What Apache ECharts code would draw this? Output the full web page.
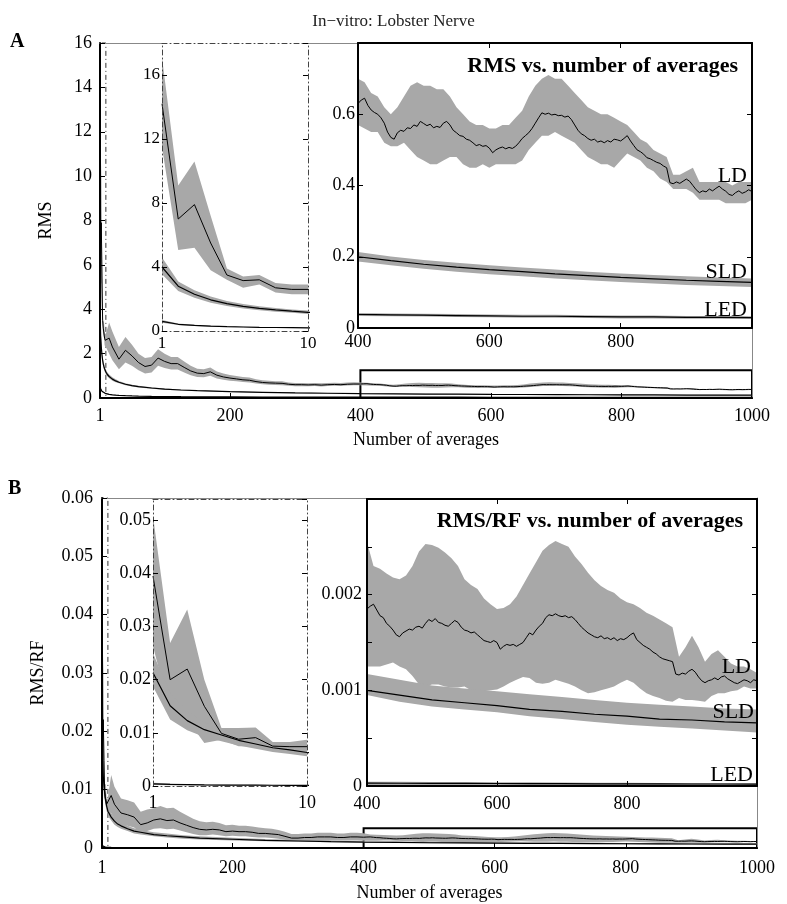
<!DOCTYPE html>
<html><head><meta charset="utf-8">
<script src="https://cdn.jsdelivr.net/npm/echarts@6/dist/echarts.min.js"></script>
<style>html,body{margin:0;padding:0;background:#fff}#c{width:787px;height:904px}</style>
</head><body><div id="c"></div><script>
// ---------- texts ----------
const titleText = 'In\u2212vitro: Lobster Nerve';
const panelLetters = ['A', 'B'];
const yNames = ['RMS', 'RMS/RF'];
const xName = 'Number of averages';
const insetTitles = ['RMS vs. number of averages', 'RMS/RF vs. number of averages'];
const curveNames = ['LD', 'SLD', 'LED'];

// ---------- tick labels ----------
const mainXLabels = [1, 200, 400, 600, 800, 1000];
const mainXTicksA = [200, 400, 600, 800];
const mainXTicksB = [100, 200, 400, 600, 800];
const insetLXLabels = [1, 10];
const insetRXLabels = [400, 600, 800];
const insetRXTicks = [600, 800];

// zoom boxes drawn in the main panels: [x1, x2, y1, y2]
const zoomLA = [1, 10, 0, 16], zoomRA = [400, 1000, 0, 1.25];
const zoomLB = [1, 10, 0, 0.06], zoomRB = [400, 1000, 0, 0.0034];

// ---------- x grids ----------
function range(a, b, s) { const r = []; for (let v = a; v <= b + 1e-9; v += s) r.push(Math.round(v)); return r; }
const ldX = [1,2,3,4,5,6,7,8,9,10,15,20].concat(range(30, 390, 10), range(400, 1000, 5));
const bandX = [1,2,3,4,5,6,7,8,9,10,15,20].concat(range(30, 390, 10), range(400, 1000, 10));
const smoothX = [1,2,3,4,5,6,7,8,9,10,12,15,20,25,30,40,50,60,80,100,125,150,200,250,300,350,400,450,500,550,600,650,700,750,800,850,900,950,1000];

// ---------- panel A: RMS ----------
const ldMeanA = [14.2,7.0,7.9,5.5,3.5,3.15,3.2,2.7,2.6,2.6,2.7,2.3,
 1.75,2.15,1.9,1.6,1.42,1.48,1.8,1.65,1.55,1.55,
 1.38,1.22,1.12,1.1,1.18,1.03,0.95,0.9,0.86,0.82,
 0.8,0.74,0.7,0.68,0.67,0.66,0.62,0.6,0.6,0.59,
 0.6,0.58,0.6,0.61,0.6,0.62,0.63,
 .630,.640,.645,.625,.612,.605,.600,.590,.575,.550,
 .535,.530,.548,.555,.552,.562,.560,.570,.566,.580,
 .574,.568,.572,.562,.566,.563,.575,.580,.570,.555,
 .548,.540,.538,.530,.527,.520,.512,.515,.510,.512,
 .505,.492,.500,.505,.508,.503,.507,.504,.510,.520,
 .532,.540,.548,.560,.575,.590,.604,.600,.603,.598,
 .600,.596,.597,.592,.595,.585,.570,.555,.545,.540,
 .532,.527,.530,.522,.525,.520,.526,.522,.530,.528,
 .525,.532,.540,.525,.512,.500,.495,.488,.478,.475,
 .470,.465,.462,.455,.450,.408,.405,.410,.406,.412,
 .418,.412,.400,.388,.380,.385,.382,.390,.385,.392,
 .398,.390,.384,.375,.372,.380,.385,.378,.382,.388,
 .383];
const ldLoA = [11.5,5.06,5.2,3.8,3.2,2.7,2.9,2.4,2.3,2.3,2.0,1.7,
 1.3,1.6,1.45,1.25,1.1,1.15,1.45,1.35,1.28,1.28,
 1.15,1.02,0.95,0.93,1.0,0.88,0.82,0.78,0.75,0.72,
 0.7,0.65,0.62,0.6,0.59,0.58,0.55,0.53,0.53,0.53,
 0.54,0.52,0.54,0.55,0.54,0.56,0.57,
 .57,.56,.55,.55,.52,.51,.51,.52,.50,.48,
 .47,.46,.46,.47,.48,.48,.46,.45,.45,.46,
 .45,.46,.46,.46,.46,.47,.50,.52,.54,.54,
 .55,.54,.53,.52,.50,.48,.47,.46,.46,.45,
 .47,.49,.48,.47,.45,.44,.42,.41,.39,.39,
 .39,.38,.36,.36,.36,.36,.35,.35,.35,.35,
 .36];
const ldHiA = [17.1,9.1,10.6,7.2,3.9,3.4,3.5,3.0,2.9,2.9,3.4,3.0,
 2.3,2.75,2.4,2.0,1.8,1.85,2.2,2.0,1.85,1.85,
 1.65,1.45,1.32,1.3,1.38,1.2,1.1,1.04,0.99,0.95,
 0.92,0.85,0.8,0.78,0.76,0.75,0.7,0.68,0.68,0.67,
 0.68,0.66,0.68,0.69,0.68,0.7,0.71,
 .70,.69,.66,.65,.62,.60,.62,.65,.68,.69,
 .68,.68,.67,.67,.65,.62,.60,.58,.57,.57,
 .56,.56,.57,.57,.59,.61,.65,.68,.70,.71,
 .70,.70,.68,.66,.64,.62,.61,.60,.60,.59,
 .58,.57,.55,.53,.52,.50,.49,.48,.43,.43,
 .44,.45,.41,.41,.41,.41,.41,.40,.41,.41,
 .41];
const sldMeanA = [4.0,2.8,2.3,1.95,1.71,1.54,1.42,1.32,1.24,1.17,1.07,0.97,0.85,0.77,0.71,0.62,0.56,0.51,0.45,0.40,0.36,0.33,0.285,0.255,0.232,0.215,0.200,0.189,0.179,0.171,0.164,0.158,0.152,0.147,0.142,0.138,0.134,0.131,0.128];
const sldLoA = [3.55,2.5,2.08,1.77,1.56,1.41,1.3,1.21,1.14,1.07,0.98,0.89,0.78,0.71,0.66,0.58,0.52,0.475,0.42,0.375,0.337,0.31,0.268,0.24,0.218,0.202,0.187,0.176,0.166,0.158,0.151,0.145,0.139,0.134,0.129,0.125,0.121,0.118,0.115];
const sldHiA = [4.6,3.1,2.55,2.15,1.88,1.68,1.55,1.44,1.35,1.28,1.17,1.06,0.93,0.84,0.77,0.67,0.6,0.55,0.485,0.43,0.385,0.352,0.303,0.27,0.246,0.228,0.213,0.201,0.191,0.183,0.176,0.17,0.164,0.158,0.153,0.149,0.145,0.142,0.139];
const ledMeanA = [0.6,0.42,0.35,0.3,0.27,0.25,0.23,0.22,0.21,0.2,0.185,0.165,0.145,0.13,0.12,0.105,0.095,0.087,0.076,0.068,0.062,0.057,0.05,0.046,0.043,0.04,0.038,0.037,0.036,0.035,0.034,0.033,0.033,0.032,0.031,0.031,0.03,0.03,0.029];
const ledLoA = [0.52,0.37,0.31,0.27,0.245,0.228,0.21,0.2,0.19,0.182,0.168,0.15,0.132,0.118,0.109,0.096,0.087,0.08,0.07,0.062,0.057,0.052,0.046,0.042,0.039,0.036,0.034,0.033,0.032,0.031,0.030,0.029,0.029,0.028,0.027,0.027,0.026,0.026,0.025];
const ledHiA = [0.68,0.47,0.39,0.33,0.295,0.272,0.25,0.24,0.23,0.218,0.202,0.18,0.158,0.142,0.131,0.114,0.103,0.094,0.082,0.074,0.067,0.062,0.054,0.05,0.047,0.044,0.042,0.041,0.04,0.039,0.038,0.037,0.037,0.036,0.035,0.035,0.034,0.034,0.033];

// ---------- panel B: RMS/RF ----------
const ldMeanB = [0.0395,0.0200,0.0220,0.0150,0.0099,0.0088,0.0091,0.0075,0.0074,0.0074,0.0090,0.0075,
 .0060,.0057,.0053,.0040,.0043,.0048,.0050,.0047,.0048,.0043,
 .0039,.0035,.0032,.0031,.0032,.0031,.0028,.0029,.0028,.0028,
 .0027,.0025,.0025,.0024,.0023,.0020,.0017,.0017,.0018,.0018,
 .0019,.0019,.0019,.0018,.0018,.0019,.0019,
 .00185,.00188,.00190,.00184,.00178,.00176,.00170,.00167,.00163,.00158,
 .00156,.00160,.00162,.00164,.00163,.00166,.00167,.00165,.00170,.00174,
 .00172,.00175,.00171,.00170,.00168,.00167,.00170,.00173,.00171,.00166,
 .00163,.00162,.00160,.00161,.00158,.00155,.00152,.00151,.00150,.00152,
 .00150,.00143,.00146,.00148,.00147,.00148,.00146,.00148,.00150,.00155,
 .00160,.00158,.00163,.00167,.00170,.00176,.00179,.00178,.00180,.00178,
 .00177,.00178,.00176,.00177,.00174,.00170,.00166,.00163,.00160,.00158,
 .00156,.00155,.00157,.00154,.00155,.00153,.00155,.00152,.00154,.00153,
 .00155,.00158,.00160,.00153,.00150,.00147,.00145,.00143,.00140,.00138,
 .00135,.00133,.00132,.00131,.00130,.00117,.00116,.00118,.00117,.00120,
 .00122,.00119,.00114,.00110,.00108,.00110,.00111,.00113,.00111,.00114,
 .00115,.00112,.00110,.00108,.00107,.00109,.00111,.00110,.00108,.00111,
 .00110];
const ldLoB = [0.0263,0.0138,0.0125,0.0081,0.0087,0.0075,0.0075,0.0068,0.0066,0.0066,0.0060,0.0050,
 .0038,.0038,.0035,.0026,.0029,.0033,.0034,.0032,.0033,.0030,
 .0027,.0024,.0022,.0022,.0023,.0022,.0020,.0021,.0020,.0020,
 .0019,.0018,.0018,.0017,.0016,.0014,.0012,.0012,.0013,.0013,
 .0013,.0013,.0013,.0013,.0013,.0013,.0013,
 .00125,.00125,.00125,.00127,.00129,.00125,.00122,.00115,.00106,.00104,
 .00106,.00106,.00104,.00103,.00103,.00104,.00100,.00097,.00099,.00100,
 .00101,.00104,.00108,.00111,.00114,.00113,.00108,.00107,.00108,.00111,
 .00109,.00107,.00104,.00100,.00097,.00098,.00100,.00102,.00104,.00108,
 .00111,.00108,.00102,.00097,.00094,.00092,.00089,.00088,.00092,.00090,
 .00090,.00089,.00088,.00094,.00097,.00097,.00099,.00100,.00104,.00102,
 .00102];
const ldHiB = [0.0508,0.0269,0.0332,0.0200,0.0109,0.0109,0.0110,0.0083,0.0083,0.0087,0.0125,0.0105,
 .0085,.0082,.0078,.0062,.0066,.0068,.0072,.0068,.0069,.0062,
 .0056,.0050,.0046,.0044,.0045,.0043,.0039,.0040,.0038,.0038,
 .0037,.0035,.0034,.0033,.0031,.0028,.0024,.0024,.0025,.0025,
 .0026,.0026,.0026,.0025,.0025,.0026,.0026,
 .00255,.00230,.00227,.00222,.00218,.00216,.00220,.00230,.00245,.00253,
 .00252,.00249,.00244,.00238,.00230,.00216,.00210,.00206,.00196,.00190,
 .00185,.00186,.00190,.00198,.00210,.00222,.00234,.00246,.00252,.00256,
 .00253,.00250,.00240,.00232,.00223,.00215,.00209,.00205,.00202,.00196,
 .00192,.00190,.00186,.00181,.00178,.00174,.00170,.00166,.00135,.00145,
 .00157,.00145,.00130,.00138,.00142,.00135,.00128,.00125,.00125,.00122,
 .00118];
const sldMeanB = [0.0213,0.0151,0.0123,0.0106,0.0096,0.0086,0.0079,0.0072,0.0068,0.0063,0.0059,0.0053,0.0046,0.0041,0.0038,0.0033,0.0029,0.0027,0.0023,0.0021,0.0019,0.0017,0.0015,0.0013,0.0012,0.00108,0.00100,0.00095,0.00090,0.00087,0.00084,0.00080,0.00078,0.00075,0.00073,0.00070,0.00069,0.00067,0.00066];
const sldLoB = [0.0187,0.0125,0.0105,0.0092,0.0084,0.0076,0.0070,0.0064,0.0060,0.0056,0.0052,0.0047,0.0040,0.0036,0.0033,0.0029,0.0025,0.0023,0.0020,0.0018,0.0016,0.00145,0.00127,0.00114,0.00106,0.00099,0.00095,0.00088,0.00083,0.0008,0.00077,0.00073,0.0007,0.00067,0.00064,0.00062,0.0006,0.00058,0.00056];
const sldHiB = [0.025,0.0175,0.014,0.012,0.0108,0.0097,0.0089,0.0081,0.0076,0.0071,0.0066,0.006,0.0052,0.0047,0.0043,0.0038,0.0034,0.0031,0.0027,0.0025,0.0022,0.002,0.00175,0.00155,0.00142,0.00128,0.00117,0.00111,0.00105,0.00102,0.00099,0.00096,0.00093,0.0009,0.00087,0.00085,0.00083,0.00081,0.0008];
const ledMeanB = [0.0004,0.0003,0.00025,0.0002,0.00018,0.00016,0.00015,0.00014,0.00013,0.00012,0.00011,0.0001,0.00009,0.00008,0.00007,0.00006,0.000055,0.00005,0.000045,0.00004,0.000038,0.000036,0.000034,0.000032,0.00003,0.00003,0.00003,0.000029,0.000028,0.000027,0.000026,0.000025,0.000024,0.000023,0.000022,0.000022,0.000021,0.000021,0.00002];
const ledLoB = [0.0002,0.00015,0.00012,0.0001,0.00009,0.00008,0.00007,0.00007,0.00006,0.00006,0.00005,0.00005,0.00004,0.00004,0.00003,0.00003,0.00003,0.00002,0.00002,0.00002,0.00002,0.00002,0.00002,0.00001,0.00001,0.00001,0.00001,0.00001,0.00001,0.00001,0.00001,0.00001,0.00001,0.00001,0.00001,0.00001,0.00001,0.00001,0.00001];
const ledHiB = [0.0006,0.00045,0.00038,0.0003,0.00027,0.00024,0.00023,0.00021,0.0002,0.00018,0.00017,0.00015,0.00014,0.00012,0.00011,0.00009,0.00008,0.00008,0.00007,0.00006,0.00006,0.000055,0.00005,0.00005,0.000048,0.000046,0.000045,0.000044,0.000043,0.000042,0.00004,0.000038,0.000036,0.000034,0.000033,0.000032,0.000031,0.00003,0.00003];

// ---------- build ----------
const FONT = '"Liberation Serif", "Times New Roman", serif';
const BAND = '#a8a8a8';
const panels = [
  {ld:[ldX, ldMeanA], ldBand:[bandX, ldLoA, ldHiA], sld:[smoothX, sldMeanA, sldLoA, sldHiA], led:[smoothX, ledMeanA, ledLoA, ledHiA], zooms:[zoomLA, zoomRA]},
  {ld:[ldX, ldMeanB], ldBand:[bandX, ldLoB, ldHiB], sld:[smoothX, sldMeanB, sldLoB, sldHiB], led:[smoothX, ledMeanB, ledLoB, ledHiB], zooms:[zoomLB, zoomRB]}
];
const fmtInt = v => String(v);
const grids = [
  {p:0, kind:'main', left:100, top:43, width:652, height:355, x:[1,1000], y:[0,16,2], xl:mainXLabels, xt:mainXTicksA, xm:9, ym:8, fmt:fmtInt, fs:18},
  {p:0, kind:'L', left:162, top:43, width:146, height:288, x:[1,10], y:[0,18,4], xl:insetLXLabels, xt:[], xm:4, ym:2, fmt:v => v > 17 ? '' : String(v), fs:17},
  {p:0, kind:'R', left:358, top:43, width:394, height:285, x:[400,1000], y:[0,0.8,0.2], xl:insetRXLabels, xt:insetRXTicks, xm:5, ym:3, fmt:v => v > 0.75 ? '' : String(+v.toFixed(1)), fs:18},
  {p:1, kind:'main', left:102, top:498, width:655, height:350, x:[1,1000], y:[0,0.06,0.01], xl:mainXLabels, xt:mainXTicksB, xm:11, ym:9, fmt:v => String(+v.toFixed(2)), fs:18},
  {p:1, kind:'L', left:153, top:499, width:154, height:287, x:[1,10], y:[0,0.054,0.01], xl:insetLXLabels, xt:[], xm:8, ym:2, fmt:v => v > 0.051 ? '' : String(+v.toFixed(2)), fs:18},
  {p:1, kind:'R', left:367, top:499, width:390, height:287, x:[400,1000], y:[0,0.003,0.0005], xl:insetRXLabels, xt:insetRXTicks, xm:9, ym:5, fmt:v => { const r = Math.round(v * 10000); return (r % 10 === 0 && r < 30) ? String(r / 10000) : ''; }, fs:18}
];

const gridOpts = [], xAxes = [], yAxes = [], series = [];
const DASH = [5, 3, 1, 3];
grids.forEach((g, gi) => {
  const isMain = g.kind === 'main', isL = g.kind === 'L';
  const zg = isMain ? 0 : 5;
  gridOpts.push({left:g.left, top:g.top, width:g.width, height:g.height, show:true, backgroundColor:'#fff', borderWidth:0, z:zg});
  const strong = isMain ? {color:'#000', width:2} : isL ? {color:'#444', width:1, type:DASH} : {color:'#000', width:2};
  const weak = isMain ? {color:'#888', width:1} : strong;
  const za = isMain ? 3 : 9;
  const tick = {show:true, inside:true, length:5, lineStyle:{color:'#000', width:1}};
  const lab = {color:'#000', fontFamily:FONT, fontSize:g.fs};
  xAxes.push({type:'value', gridIndex:gi, min:g.x[0], max:g.x[1], position:'bottom', z:za,
    axisLine:{show:true, onZero:false, lineStyle:strong},
    axisTick: g.xt.length ? Object.assign({}, tick, {customValues:g.xt}) : {show:false},
    axisLabel:Object.assign({}, lab, {margin:g.xm, customValues:g.xl, formatter:v => String(v)}),
    splitLine:{show:false},
    name: isMain ? xName : '', nameLocation:'middle', nameGap: isMain ? (g.p === 0 ? 33 : 36) : 0,
    nameTextStyle:{fontFamily:FONT, fontSize:18, color:'#000'}});
  xAxes.push({type:'value', gridIndex:gi, min:g.x[0], max:g.x[1], position:'top', z:za,
    axisLine:{show:true, onZero:false, lineStyle:weak},
    axisTick: g.kind === 'R' ? Object.assign({}, tick, {customValues:g.xt}) : {show:false},
    axisLabel:{show:false}, splitLine:{show:false}});
  yAxes.push({type:'value', gridIndex:gi, min:g.y[0], max:g.y[1], interval:g.y[2], position:'left', z:za,
    axisLine:{show:true, onZero:false, lineStyle:strong},
    axisTick:tick,
    axisLabel:Object.assign({}, lab, {margin:g.ym, formatter:g.fmt, showMaxLabel: isMain}),
    splitLine:{show:false},
    name: isMain ? yNames[g.p] : '', nameLocation:'middle', nameRotate:90, nameGap: g.p === 0 ? 45 : 55,
    nameTextStyle:{fontFamily:FONT, fontSize:18, color:'#000'}});
  yAxes.push({type:'value', gridIndex:gi, min:g.y[0], max:g.y[1], interval:g.y[2], position:'right', z:za,
    axisLine:{show:true, onZero:false, lineStyle:weak},
    axisTick: isMain ? {show:false} : tick,
    axisLabel:{show:false}, splitLine:{show:false}});

  const P = panels[g.p];
  const zb = isMain ? 1 : 6, zl = isMain ? 2 : 7;
  const band = (xs, lo, hi) => ({
    type:'custom', xAxisIndex:2*gi, yAxisIndex:2*gi, z:zb, silent:true, animation:false,
    data:[[g.x[0], g.y[0]]],
    renderItem:function (params, api) {
      const pts = [];
      for (let i = 0; i < xs.length; i++) pts.push(api.coord([xs[i], hi[i]]));
      for (let i = xs.length - 1; i >= 0; i--) pts.push(api.coord([xs[i], lo[i]]));
      const cs = params.coordSys;
      return {type:'polygon', shape:{points:pts}, style:{fill:BAND, stroke:null},
        clipPath:{type:'rect', shape:{x:cs.x, y:cs.y, width:cs.width, height:cs.height}}};
    }
  });
  const line = (xs, ys, w) => ({
    type:'line', xAxisIndex:2*gi, yAxisIndex:2*gi, z:zl, silent:true, animation:false,
    showSymbol:false, symbol:'none', clip:true,
    lineStyle:{color:'#000', width:w},
    data: xs.map((x, i) => [x, ys[i]])
  });
  series.push(band(P.ldBand[0], P.ldBand[1], P.ldBand[2]));
  series.push(band(P.sld[0], P.sld[2], P.sld[3]));
  series.push(band(P.led[0], P.led[2], P.led[3]));
  series.push(line(P.sld[0], P.sld[1], 1.2));
  series.push(line(P.led[0], P.led[1], 1.2));
  const ldLine = line(P.ld[0], P.ld[1], 1);
  if (isMain) {
    const zL = P.zooms[0], zR = P.zooms[1];
    ldLine.markArea = {silent:true, label:{show:false},
      data:[
        [{coord:[zL[0], zL[2]], itemStyle:{color:'rgba(0,0,0,0)', borderColor:'#333', borderWidth:1, borderType:DASH}}, {coord:[zL[1], zL[3]]}],
        [{coord:[zR[0], zR[2]], itemStyle:{color:'rgba(0,0,0,0)', borderColor:'#000', borderWidth:2, borderType:'solid'}}, {coord:[zR[1], zR[3]]}]
      ]};
  }
  series.push(ldLine);
});

const txt = (text, x, y, size, bold, align) => ({type:'text', x:x, y:y, z:100,
  style:{text:text, font:(bold ? 'bold ' : '') + size + 'px ' + FONT, fill:'#000',
    align:align || 'left', verticalAlign:'middle', textAlign:align || 'left', textVerticalAlign:'middle'}});

const option = {
  animation:false,
  backgroundColor:'#fff',
  title:{text:titleText, left:'center', top:8, textStyle:{fontFamily:FONT, fontSize:17, fontWeight:'normal', color:'#222'}},
  grid:gridOpts, xAxis:xAxes, yAxis:yAxes, series:series,
  graphic:[
    txt(panelLetters[0], 10, 42, 20, true),
    txt(panelLetters[1], 8, 489, 20, true),
    txt(insetTitles[0], 738, 66, 22, true, 'right'),
    txt(insetTitles[1], 743, 521, 22, true, 'right'),
    txt(curveNames[0], 747, 176, 22, false, 'right'),
    txt(curveNames[1], 747, 272, 22, false, 'right'),
    txt(curveNames[2], 747, 310, 22, false, 'right'),
    txt(curveNames[0], 751, 667, 22, false, 'right'),
    txt(curveNames[1], 754, 712, 22, false, 'right'),
    txt(curveNames[2], 753, 775, 22, false, 'right')
  ]
};
echarts.init(document.getElementById('c'), null, {renderer:'canvas'}).setOption(option);
</script></body></html>
